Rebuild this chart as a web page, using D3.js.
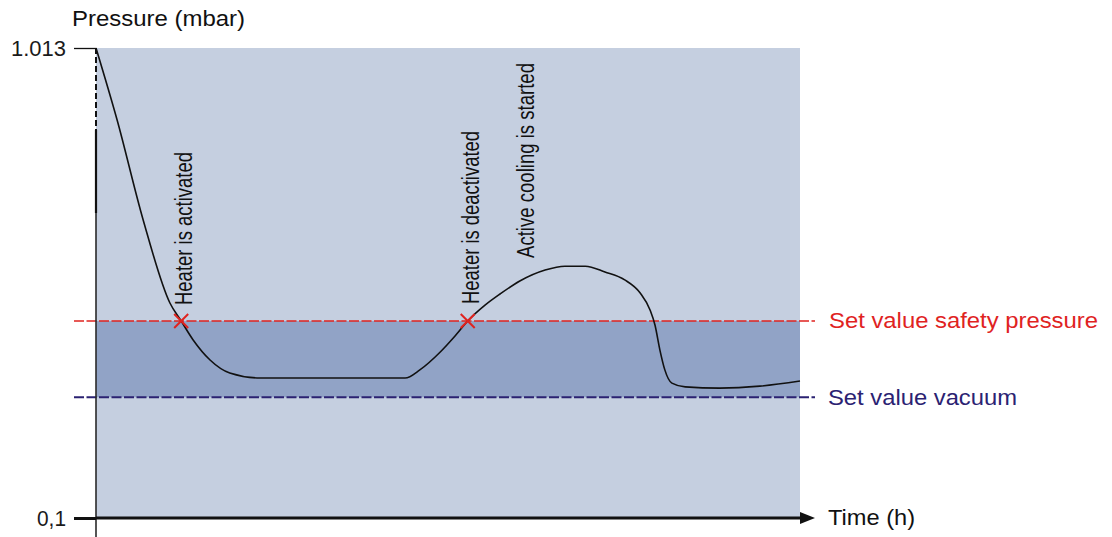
<!DOCTYPE html>
<html>
<head>
<meta charset="utf-8">
<script src="https://cdn.jsdelivr.net/npm/d3@7"></script>
<style>
  html, body { margin: 0; padding: 0; background: #fff; }
  svg { display: block; }
  text { font-family: "Liberation Sans", Arial, sans-serif; }
</style>
</head>
<body>
<svg id="chart" width="1112" height="537"></svg>
<script>
// ---------- data ----------
const timeDomain = [0, 10];                // h (schematic)
const pressureDomain = [0.1, 1013];        // mbar
const yTickValues = [1013, 0.1];
const yTickLabels = ["1.013", "0,1"];
const safetyPressure = 4.77;               // mbar
const vacuumSetValue = 1.07;               // mbar

// pressure curve (time h, pressure mbar)
const curveTime = [0, 0.30, 0.67, 1.05, 1.21, 1.38, 1.62, 1.90, 2.33, 4.39, 4.60, 4.89, 5.10, 5.28, 5.53, 5.74, 6.02, 6.38, 6.66, 6.95, 7.23, 7.51, 7.73, 7.87, 7.94, 8.01, 8.08, 8.18, 8.37, 8.86, 9.43, 10];
const curvePressure = [1013, 246.6, 34.7, 6.80, 4.77, 3.29, 2.22, 1.72, 1.56, 1.56, 1.83, 2.60, 3.56, 4.77, 6.54, 8.11, 10.47, 12.99, 14.0, 14.0, 12.5, 10.7, 8.27, 5.93, 4.41, 2.70, 1.83, 1.41, 1.31, 1.28, 1.33, 1.47];

// events
const eventLabels = ["Heater is activated", "Heater is deactivated", "Active cooling is started"];
const eventTimes = [1.21, 5.28, 6.07];
const eventMarked = [true, true, false];

const setLabels = ["Set value safety pressure", "Set value vacuum"];
const axisTitleY = "Pressure (mbar)";
const axisTitleX = "Time (h)";

// ---------- layout ----------
const svg = d3.select("#chart");
const x0 = 96, x1 = 800, yTop = 48, yBot = 518;
const x = d3.scaleLinear().domain(timeDomain).range([x0, x1]);
const y = d3.scaleLog().domain(pressureDomain).range([yBot, yTop]);

const bgLight = "#c5cfe0", bgDark = "#91a3c6";
const red = "#e0231f", navy = "#2b2272";

// background
svg.append("rect").attr("x", x0).attr("y", y(pressureDomain[1]))
  .attr("width", x1 - x0).attr("height", y(pressureDomain[0]) - y(pressureDomain[1]))
  .attr("fill", bgLight);
svg.append("rect").attr("x", x0).attr("y", y(safetyPressure))
  .attr("width", x1 - x0).attr("height", y(vacuumSetValue) - y(safetyPressure))
  .attr("fill", bgDark);

// set value lines
svg.append("line").attr("x1", 74).attr("x2", 815)
  .attr("y1", y(safetyPressure)).attr("y2", y(safetyPressure))
  .attr("stroke", red).attr("stroke-width", 1.6).attr("stroke-dasharray", "10,2.5");
svg.append("line").attr("x1", 74).attr("x2", 815)
  .attr("y1", y(vacuumSetValue)).attr("y2", y(vacuumSetValue))
  .attr("stroke", navy).attr("stroke-width", 2).attr("stroke-dasharray", "10,2.5");

// y axis (custom drawn pieces)
svg.append("line").attr("x1", x0).attr("x2", x0).attr("y1", yTop).attr("y2", 130)
  .attr("stroke", "#111").attr("stroke-width", 2).attr("stroke-dasharray", "6,3");
svg.append("line").attr("x1", x0).attr("x2", x0).attr("y1", 130).attr("y2", 213)
  .attr("stroke", "#111").attr("stroke-width", 2.2);
svg.append("line").attr("x1", x0).attr("x2", x0).attr("y1", 213).attr("y2", 537)
  .attr("stroke", "#2a2a2a").attr("stroke-width", 1.6);

// y ticks via axis
const yAxis = d3.axisLeft(y).tickValues(yTickValues)
  .tickFormat((d, i) => yTickLabels[i]).tickSize(22).tickPadding(8);
const gy = svg.append("g").attr("transform", `translate(${x0},0)`).call(yAxis);
gy.select(".domain").remove();
gy.selectAll(".tick line").attr("stroke", "#111").attr("stroke-width", (d) => d === 0.1 ? 3 : 1.3);
gy.selectAll(".tick text").attr("font-size", 22).attr("fill", "#1a1a1a")
  .attr("font-family", "'Liberation Sans', Arial, sans-serif")
  .attr("textLength", (d) => d === 0.1 ? 29 : 55).attr("lengthAdjust", "spacingAndGlyphs");

// x axis line with arrow
svg.append("line").attr("x1", 96).attr("x2", 803).attr("y1", yBot).attr("y2", yBot)
  .attr("stroke", "#111").attr("stroke-width", 3);
svg.append("path").attr("d", `M800,${yBot - 6} L815,${yBot} L800,${yBot + 6} Z`).attr("fill", "#111");

// curve
const line = d3.line().x((d, i) => x(curveTime[i])).y((d) => y(d)).curve(d3.curveMonotoneX);
svg.append("path").attr("d", line(curvePressure))
  .attr("fill", "none").attr("stroke", "#111").attr("stroke-width", 1.6);

// event markers
eventTimes.forEach((t, i) => {
  if (!eventMarked[i]) return;
  const cx = x(t), cy = y(safetyPressure), r = 7;
  svg.append("path").attr("d", `M${cx - r},${cy - r} L${cx + r},${cy + r} M${cx - r},${cy + r} L${cx + r},${cy - r}`)
    .attr("stroke", red).attr("stroke-width", 2).attr("fill", "none");
});

// event labels (rotated)
const eventLabelBottom = [305, 304, 258];
const eventLabelLen = [153, 173, 195];
eventTimes.forEach((t, i) => {
  svg.append("text")
    .attr("transform", `translate(${x(t) + 11},${eventLabelBottom[i]}) rotate(-90)`)
    .attr("font-size", 23).attr("fill", "#111")
    .attr("textLength", eventLabelLen[i]).attr("lengthAdjust", "spacingAndGlyphs")
    .text(eventLabels[i]);
});

// set value labels
svg.append("text").attr("x", 829).attr("y", y(safetyPressure) + 6.5)
  .attr("font-size", 22).attr("fill", red)
  .attr("textLength", 269).attr("lengthAdjust", "spacingAndGlyphs")
  .text(setLabels[0]);
svg.append("text").attr("x", 828).attr("y", y(vacuumSetValue) + 8)
  .attr("font-size", 22).attr("fill", navy)
  .attr("textLength", 189).attr("lengthAdjust", "spacingAndGlyphs")
  .text(setLabels[1]);

// axis titles
svg.append("text").attr("x", 72).attr("y", 26).attr("font-size", 22).attr("fill", "#111")
  .attr("textLength", 173).attr("lengthAdjust", "spacingAndGlyphs").text(axisTitleY);
svg.append("text").attr("x", 828).attr("y", 525).attr("font-size", 22).attr("fill", "#111")
  .attr("textLength", 87).attr("lengthAdjust", "spacingAndGlyphs").text(axisTitleX);
</script>
</body>
</html>
